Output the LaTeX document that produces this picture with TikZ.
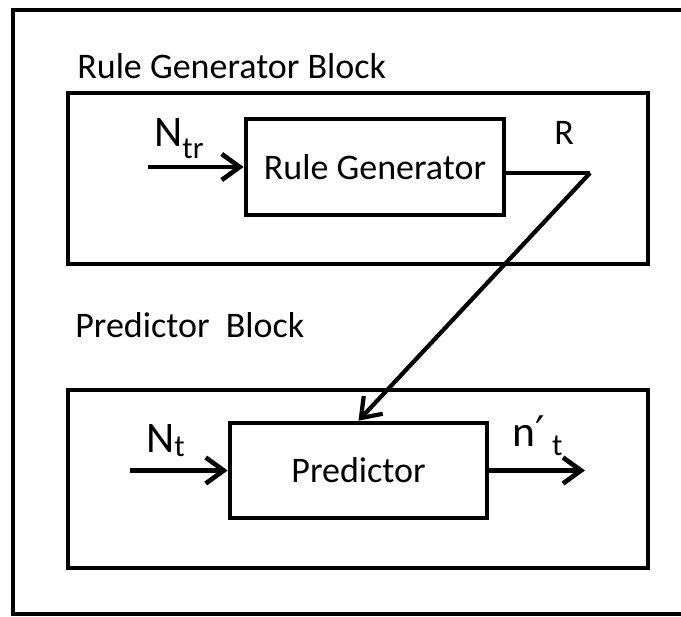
\documentclass[tikz,border=0pt]{standalone}
\usepackage{fontspec}
\setmainfont{Carlito}
\newfontfamily\primefont{DejaVu Sans}
\usetikzlibrary{arrows.meta}
% lowered index in text font
\newcommand{\lowsub}[2]{\raisebox{-#1}{\fontsize{22}{24}\selectfont #2}}
\tikzset{
  blk/.style={draw, line width=3.3pt, minimum width=6.45cm, minimum height=2.4cm, inner sep=0pt},
  lbl/.style={anchor=base west, inner sep=0pt},
  sig/.style={font=\fontsize{31}{34}\selectfont}
}
\begin{document}
\begin{tikzpicture}[line width=3.3pt, font=\fontsize{25.6}{30}\selectfont,
    >={Straight Barb[length=4.5mm,width=6.5mm]}]
  \useasboundingbox (0,0) rectangle (17.025,15.4);
  % outer frame (right side runs off the page) and the two blocks
  \draw[line width=2.5pt] (17.6,0.05) -- (0.325,0.05) -- (0.325,15.15) -- (17.6,15.15);
  \draw (1.7,8.8) rectangle (16.2,13.075);
  \draw (1.7,1.2) rectangle (16.2,5.65);
  \node[lbl] (rgtitle) at (1.875,13.45) {Rule Generator Block};
  \node[lbl] (pbtitle) at (1.825,6.975) {Predictor\ \ Block};

  \node[blk] (rgen) at (9.375,11.225) {Rule Generator};
  \node[blk, minimum width=6.425cm, minimum height=2.375cm] (pred) at (8.9625,3.6375) {Predictor};

  \coordinate (ntrin) at (3.7,11.225);
  \coordinate (rpt) at (14.75,11.075);
  \coordinate (ntin) at (3.25,3.6375);
  \coordinate (nout) at (14.625,3.6375);

  \draw[->] (ntrin) -- (rgen);
  \draw (rgen.east |- rpt) -- (rpt);
  \draw[->, line width=3pt] (rpt) -- (pred.north);
  \draw[->] (ntin) -- (pred);
  \draw[->] (pred) -- (nout);

  % signal names
  \node[lbl, sig] (ntr) at (3.8,11.75) {N\lowsub{0.28em}{tr}};
  \node[lbl] (r) at (13.8,11.775) {R};
  \node[lbl, sig] (nt) at (3.6,4.1) {N\lowsub{0.1em}{t}};
  \node[lbl, sig] (ntp) at (12.75,4.25) {n{\primefont\fontsize{30}{32}\selectfont ′}\,\lowsub{0.22em}{t}};
\end{tikzpicture}
\end{document}
